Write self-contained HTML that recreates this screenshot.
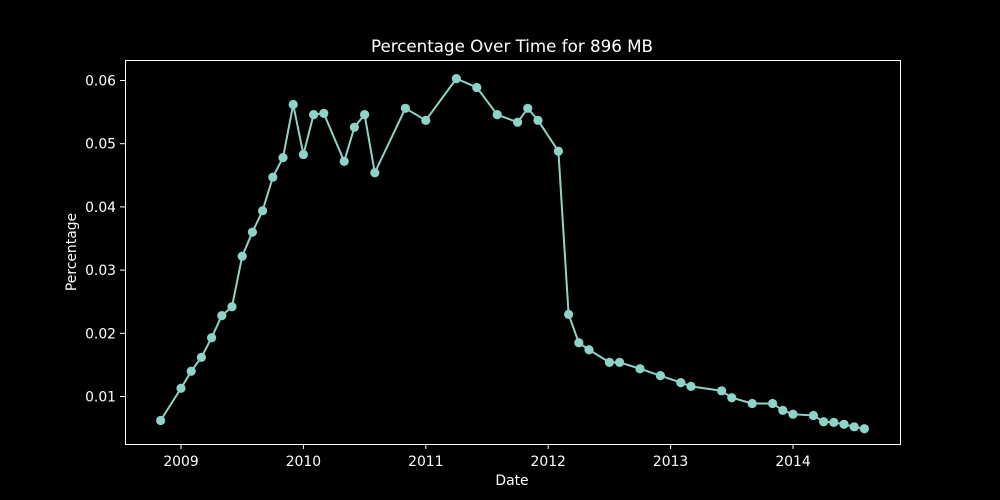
<!DOCTYPE html>
<html><head><meta charset="utf-8"><style>
body{margin:0;background:#000}
svg{display:block}
text{font-family:"DejaVu Sans","Liberation Sans",sans-serif;fill:#fff}
</style></head><body>
<svg id="chart" width="1000" height="500">
<rect width="1000" height="500" fill="#000"/>
<text x="512" y="52" text-anchor="middle" font-size="16.7">Percentage Over Time for 896 MB</text>
<g id="axes"></g>
<g id="series"></g>
<rect x="125.5" y="60.5" width="775" height="384" fill="none" stroke="#fff" stroke-width="1"/>
<text x="512" y="485" text-anchor="middle" font-size="13.9">Date</text>
<text transform="translate(76,252) rotate(-90)" text-anchor="middle" font-size="13.9">Percentage</text>
</svg>
<script>
const dates=["2008-11","2009-01","2009-02","2009-03","2009-04","2009-05","2009-06","2009-07","2009-08","2009-09","2009-10","2009-11","2009-12","2010-01","2010-02","2010-03","2010-05","2010-06","2010-07","2010-08","2010-11","2011-01","2011-04","2011-06","2011-08","2011-10","2011-11","2011-12","2012-02","2012-03","2012-04","2012-05","2012-07","2012-08","2012-10","2012-12","2013-02","2013-03","2013-06","2013-07","2013-09","2013-11","2013-12","2014-01","2014-03","2014-04","2014-05","2014-06","2014-07","2014-08"];
const values=[0.0062,0.0113,0.0140,0.0162,0.0193,0.0228,0.0242,0.0322,0.0360,0.0394,0.0447,0.0478,0.0562,0.0483,0.0546,0.0548,0.0472,0.0526,0.0546,0.0454,0.0556,0.0537,0.0603,0.0589,0.0546,0.0534,0.0556,0.0537,0.0488,0.0230,0.0185,0.0174,0.0154,0.0154,0.0144,0.0133,0.0122,0.0116,0.0109,0.0098,0.0089,0.0089,0.0078,0.0072,0.0070,0.0060,0.0059,0.0056,0.0052,0.0049];
const xTicks=[2009,2010,2011,2012,2013,2014];
const yTicks=[0.01,0.02,0.03,0.04,0.05,0.06];
const NS="http://www.w3.org/2000/svg";
function xs(yr){return 181+(yr-2009)*122.4;}
function ys(v){return 396.5-(v-0.01)*6320;}
function dyr(s){const p=s.split("-");return +p[0]+(+p[1]-1)/12;}
const axes=document.getElementById("axes"),ser=document.getElementById("series");
function mk(tag,attrs,parent){const e=document.createElementNS(NS,tag);for(const k in attrs)e.setAttribute(k,attrs[k]);parent.appendChild(e);return e;}
xTicks.forEach(t=>{
 const x=xs(t);
 const l=mk("line",{x1:x,x2:x,y1:444,y2:449,stroke:"#fff"},axes);
 
 
 const tx=mk("text",{x:x,y:466,"text-anchor":"middle","font-size":"13.9"},axes);
 tx.textContent=t;
 
 
});
yTicks.forEach(t=>{
 const y=ys(t);
 const l=mk("line",{x1:120,x2:125,y1:y,y2:y,stroke:"#fff"},axes);
 
 
 const tx=mk("text",{x:116,y:y+5,"text-anchor":"end","font-size":"13.9"},axes);
 tx.textContent=t.toFixed(2);
 
 
});
const pts=dates.map((d,i)=>[xs(dyr(d)),ys(values[i])]);
const pl=mk("polyline",{points:pts.map(p=>p.join(",")).join(" "),fill:"none",stroke:"#8dd3c7","stroke-width":"2"},ser);


pts.forEach(p=>{
 const c=mk("circle",{cx:p[0],cy:p[1],r:4.6,fill:"#8dd3c7"},ser);
 
 
});
</script>
</body></html>
